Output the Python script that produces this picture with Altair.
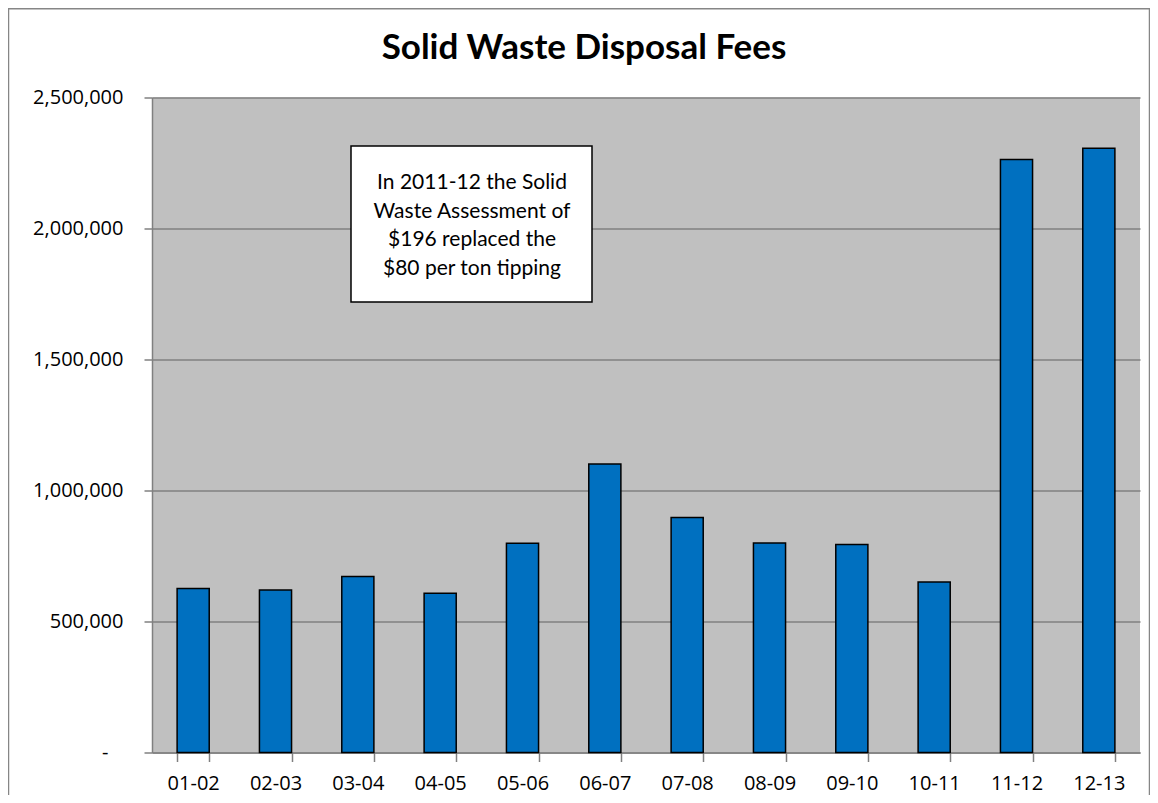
import altair as alt
import pandas as pd

years = ["01-02", "02-03", "03-04", "04-05", "05-06", "06-07",
         "07-08", "08-09", "09-10", "10-11", "11-12", "12-13"]
fees = [626000, 620000, 672000, 608000, 799000, 1101000,
        897000, 800000, 794000, 651000, 2263000, 2306000]
y_ticks = [0, 500000, 1000000, 1500000, 2000000, 2500000]
note_lines = ["In 2011-12 the Solid", "Waste Assessment of",
              "$196 replaced the", "$80 per ton tipping"]
title_text = "Solid Waste Disposal Fees"

df = pd.DataFrame({"year": years, "fee": fees})
one = pd.DataFrame({"k": [1]})

label_expr = "datum.value == 0 ? '-' : format(datum.value, ',')"

bars = alt.Chart(df).mark_bar(color="#0070C0", stroke="black", strokeWidth=1.5).encode(
    x=alt.X("year:N", sort=years,
            scale=alt.Scale(paddingInner=0.61, paddingOuter=0.305),
            axis=alt.Axis(title=None, labelAngle=0, tickBand="extent", tickSize=9,
                          labelPadding=12, labelFontSize=20, labelFont="Open Sans",
                          labelColor="black", domainColor="#808080", tickColor="#808080",
                          domainWidth=1.5, tickWidth=1.5, grid=False)),
    y=alt.Y("fee:Q", scale=alt.Scale(domain=[0, 2500000], nice=False),
            axis=alt.Axis(title=None, values=y_ticks, labelExpr=label_expr,
                          tickSize=8,
                          labelPadding={"condition": {"test": "datum.value == 0", "value": 36},
                                        "value": 21},
                          labelFontSize=20,
                          labelFont="Open Sans", labelColor="black",
                          domainColor="#808080", tickColor="#808080",
                          domainWidth=1.5, tickWidth=1.5,
                          gridColor="#808080", gridWidth=1.5)),
)

border = alt.Chart(one).mark_rect(fillOpacity=0, stroke="#868686", strokeWidth=1.5).encode(
    x=alt.value(-143.5), x2=alt.value(997.5), y=alt.value(-88.75), y2=alt.value(720)
)

title = alt.Chart(one).mark_text(font="Lato", fontSize=35, fontWeight="bold", align="center",
                                 baseline="alphabetic", color="black").encode(
    x=alt.value(432), y=alt.value(-38.5), text=alt.value(title_text)
)

box = alt.Chart(one).mark_rect(fill="white", stroke="black", strokeWidth=1.5).encode(
    x=alt.value(199), x2=alt.value(440), y=alt.value(48.5), y2=alt.value(204.5)
)

note = alt.Chart(one).mark_text(font="Lato", fontSize=21, lineHeight=28.5, align="center",
                                baseline="middle", color="black").encode(
    x=alt.value(320), y=alt.value(85.5), text=alt.value(note_lines)
)

chart = alt.layer(border, title, bars, box, note).properties(
    width=988, height=655,
    autosize=alt.AutoSizeParams(type="none"),
    padding={"left": 144, "top": 89.5, "right": 10, "bottom": 42.5},
    background="white",
).configure_view(fill="#C0C0C0", strokeWidth=0)

chart.save("out.html", embed_options={"renderer": "svg", "actions": False})
